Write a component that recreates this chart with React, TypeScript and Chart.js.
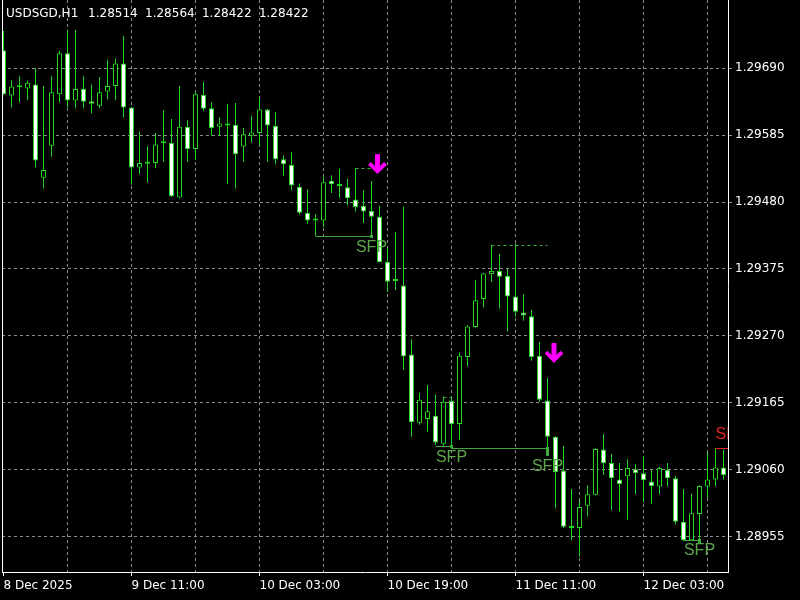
import { useEffect, useRef } from 'react';
import { Chart, registerables } from 'chart.js';

Chart.register(...registerables);

// ---- OHLC (hourly bars, index 0 = 8 Dec 19:00) ----
const opens = [
  1.29718, 1.29647, 1.29661, 1.29658, 1.29664, 1.29518, 1.29568, 1.29649, 1.29713, 1.29639,
  1.29657, 1.29638, 1.29631, 1.29653, 1.29662, 1.29697, 1.29628, 1.29534, 1.29541, 1.29541,
  1.29574, 1.29573, 1.29487, 1.29598, 1.29563, 1.29648, 1.29627, 1.29598, 1.29601, 1.29601,
  1.29567, 1.29584, 1.29588, 1.29625, 1.29599, 1.29547, 1.29538, 1.29504, 1.29463, 1.29453,
  1.29451, 1.29513, 1.29506, 1.29503, 1.29484, 1.29474, 1.29466, 1.29457, 1.29386, 1.29357,
  1.29349, 1.29241, 1.29134, 1.29140, 1.29145, 1.29101, 1.29168, 1.29132, 1.29237, 1.29284,
  1.29328, 1.29367, 1.29372, 1.29364, 1.29332, 1.29307, 1.29301, 1.29239, 1.29169, 1.29112,
  1.29059, 1.28970, 1.28969, 1.29004, 1.29021, 1.29092, 1.29071, 1.29045, 1.29050, 1.29061,
  1.29055, 1.29042, 1.29034, 1.29060, 1.29047, 1.28979, 1.28950, 1.28991, 1.29034, 1.29045,
  1.29064,
];
const highs = [
  1.29748, 1.29671, 1.29677, 1.29670, 1.29690, 1.29662, 1.29677, 1.29717, 1.29750, 1.29750,
  1.29677, 1.29664, 1.29676, 1.29703, 1.29705, 1.29740, 1.29629, 1.29591, 1.29567, 1.29588,
  1.29624, 1.29610, 1.29662, 1.29608, 1.29652, 1.29668, 1.29636, 1.29613, 1.29634, 1.29635,
  1.29596, 1.29615, 1.29644, 1.29626, 1.29621, 1.29553, 1.29558, 1.29509, 1.29500, 1.29461,
  1.29520, 1.29522, 1.29532, 1.29516, 1.29533, 1.29498, 1.29513, 1.29474, 1.29408, 1.29433,
  1.29473, 1.29265, 1.29181, 1.29193, 1.29178, 1.29175, 1.29174, 1.29244, 1.29287, 1.29358,
  1.29369, 1.29413, 1.29399, 1.29375, 1.29415, 1.29335, 1.29311, 1.29261, 1.29204, 1.29113,
  1.29098, 1.29030, 1.29013, 1.29036, 1.29094, 1.29116, 1.29085, 1.29071, 1.29077, 1.29069,
  1.29082, 1.29060, 1.29065, 1.29071, 1.29051, 1.29030, 1.29023, 1.29036, 1.29088, 1.29094,
  1.29092,
];
const lows = [
  1.29648, 1.29628, 1.29636, 1.29640, 1.29534, 1.29501, 1.29551, 1.29636, 1.29628, 1.29627,
  1.29627, 1.29619, 1.29627, 1.29641, 1.29640, 1.29613, 1.29507, 1.29524, 1.29510, 1.29533,
  1.29543, 1.29488, 1.29486, 1.29543, 1.29546, 1.29623, 1.29584, 1.29584, 1.29508, 1.29501,
  1.29543, 1.29573, 1.29569, 1.29543, 1.29539, 1.29521, 1.29498, 1.29461, 1.29446, 1.29427,
  1.29441, 1.29494, 1.29487, 1.29475, 1.29465, 1.29447, 1.29426, 1.29385, 1.29339, 1.29342,
  1.29217, 1.29112, 1.29131, 1.29120, 1.29099, 1.29098, 1.29094, 1.29107, 1.29222, 1.29283,
  1.29315, 1.29355, 1.29313, 1.29277, 1.29300, 1.29294, 1.29231, 1.29167, 1.29082, 1.29000,
  1.28969, 1.28950, 1.28924, 1.28987, 1.29020, 1.29052, 1.28997, 1.28995, 1.28982, 1.29022,
  1.29009, 1.29007, 1.29022, 1.29034, 1.28974, 1.28949, 1.28949, 1.28944, 1.29016, 1.29034,
  1.29045,
];
const closes = [
  1.29649, 1.29661, 1.29660, 1.29667, 1.29545, 1.29530, 1.29652, 1.29713, 1.29639, 1.29657,
  1.29637, 1.29634, 1.29652, 1.29662, 1.29697, 1.29628, 1.29534, 1.29541, 1.29540, 1.29570,
  1.29572, 1.29489, 1.29598, 1.29563, 1.29649, 1.29626, 1.29596, 1.29603, 1.29600, 1.29555,
  1.29586, 1.29589, 1.29625, 1.29600, 1.29547, 1.29539, 1.29506, 1.29463, 1.29451, 1.29451,
  1.29511, 1.29508, 1.29505, 1.29486, 1.29472, 1.29465, 1.29457, 1.29386, 1.29355, 1.29356,
  1.29238, 1.29135, 1.29170, 1.29152, 1.29103, 1.29167, 1.29132, 1.29239, 1.29285, 1.29326,
  1.29368, 1.29372, 1.29363, 1.29332, 1.29308, 1.29302, 1.29237, 1.29170, 1.29112, 1.29057,
  1.28971, 1.28969, 1.29002, 1.29022, 1.29093, 1.29071, 1.29047, 1.29038, 1.29063, 1.29055,
  1.29044, 1.29035, 1.29063, 1.29047, 1.28979, 1.28950, 1.28992, 1.29035, 1.29045, 1.29064,
  1.29052,
];

// ---- axes ----
const xGridIdx = [0, 8, 16, 24, 32, 40, 48, 56, 64, 72, 80, 88];
const xLabelIdx = [0, 16, 32, 48, 64, 80];
const xLabelText = ['8 Dec 2025', '9 Dec 11:00', '10 Dec 03:00', '10 Dec 19:00', '11 Dec 11:00', '12 Dec 03:00'];
const yTicks = [1.28955, 1.2906, 1.29165, 1.2927, 1.29375, 1.2948, 1.29585, 1.2969];
const Y_MIN = 1.289001;
const Y_MAX = 1.297966;
const X_MIN = -0.1875;
const X_MAX = 90.5625;

// ---- SFP annotations: [fromBar, toBar, price] ----
const sfpSolid: [number, number, number][] = [
  [39, 46, 1.29427],
  [54, 56, 1.29098],
  [56, 68, 1.29094],
  [85, 87, 1.2895],
];
const sfpDashed: [number, number, number][] = [
  [44, 46, 1.29533],
  [55, 56, 1.29175],
  [61, 68, 1.29413],
];
const sfpLabels: [number, number][] = [
  [46, 1.29409],
  [56, 1.2908],
  [68, 1.29066],
  [87, 1.28933],
];
const pendingLine: [number, number, number] = [89, 91, 1.29094];
const pendingLabel: [number, number] = [90.94, 1.29115];
const arrowBar = [46.75, 68.81];
const arrowTop = [1.29555, 1.29259];
const arrowTip = [1.29525, 1.29229];

const TITLE_SYMBOL = 'USDSGD,H1';
const TITLE_PRICES = '1.28514 1.28564 1.28422 1.28422';

const GREEN = '#22d822';
const BEAR_FILL = '#ffffff';
const SFP_LINE = '#3caa3c';
const SFP_TEXT = '#5ea44a';
const RED = '#e02424';
const MAGENTA = '#ff00ff';
const GRID = '#8c8c8c';
const AXIS = '#ffffff';
const TEXT = '#ffffff';
const FONT = "'DejaVu Sans', sans-serif";

const overlayPlugin = {
  id: 'sfpOverlay',
  afterDatasetsDraw(chart: any) {
    const { ctx, chartArea: a, scales } = chart;
    const xs = scales.x;
    const ys = scales.y;
    ctx.save();
    ctx.beginPath();
    ctx.rect(a.left, a.top, a.right - a.left, a.bottom - a.top);
    ctx.clip();

    ctx.lineWidth = 1;
    for (const [f, t, p] of sfpSolid) {
      const y = Math.round(ys.getPixelForValue(p)) + 0.5;
      ctx.strokeStyle = SFP_LINE;
      ctx.setLineDash([]);
      ctx.beginPath();
      ctx.moveTo(xs.getPixelForValue(f), y);
      ctx.lineTo(xs.getPixelForValue(t), y);
      ctx.stroke();
      const yl = ys.getPixelForValue(lows[t]);
      ctx.fillStyle = SFP_LINE;
      ctx.fillRect(xs.getPixelForValue(t) - 1.5, y - 1.5, 3, Math.max(3, yl - y + 1.5));
    }
    for (const [f, t, p] of sfpDashed) {
      const y = Math.round(ys.getPixelForValue(p)) + 0.5;
      ctx.strokeStyle = SFP_LINE;
      ctx.setLineDash([3, 3]);
      ctx.beginPath();
      ctx.moveTo(xs.getPixelForValue(f), y);
      ctx.lineTo(xs.getPixelForValue(t), y);
      ctx.stroke();
    }
    ctx.setLineDash([]);
    ctx.font = "16px 'Liberation Sans', Arial, sans-serif";
    ctx.textAlign = 'center';
    ctx.textBaseline = 'middle';
    ctx.fillStyle = SFP_TEXT;
    for (const [b, p] of sfpLabels) {
      ctx.fillText('SFP', xs.getPixelForValue(b), ys.getPixelForValue(p));
    }
    {
      const y = Math.round(ys.getPixelForValue(pendingLine[2])) + 0.5;
      ctx.strokeStyle = RED;
      ctx.beginPath();
      ctx.moveTo(xs.getPixelForValue(pendingLine[0]), y);
      ctx.lineTo(xs.getPixelForValue(pendingLine[1]), y);
      ctx.stroke();
      ctx.fillStyle = RED;
      ctx.fillText('SFP', xs.getPixelForValue(pendingLabel[0]), ys.getPixelForValue(pendingLabel[1]));
    }
    ctx.fillStyle = MAGENTA;
    ctx.strokeStyle = MAGENTA;
    for (let k = 0; k < arrowBar.length; k++) {
      const cx = xs.getPixelForValue(arrowBar[k]);
      const top = ys.getPixelForValue(arrowTop[k]);
      const tip = ys.getPixelForValue(arrowTip[k]);
      ctx.fillRect(cx - 2.5, top, 5, tip - top - 3);
      ctx.lineWidth = 4;
      ctx.lineJoin = 'miter';
      ctx.beginPath();
      ctx.moveTo(cx - 8, tip - 10);
      ctx.lineTo(cx, tip - 2);
      ctx.lineTo(cx + 8, tip - 10);
      ctx.stroke();
    }
    ctx.restore();

    ctx.save();
    ctx.strokeStyle = AXIS;
    ctx.lineWidth = 1;
    ctx.beginPath();
    ctx.moveTo(a.left + 0.5, a.top);
    ctx.lineTo(a.left + 0.5, a.bottom);
    ctx.stroke();
    ctx.restore();
  },
};

export default function App() {
  const ref = useRef<HTMLCanvasElement | null>(null);

  useEffect(() => {
    if (!ref.current) return;
    const bodyData = opens.map((o, i) => ({ x: i, y: [Math.min(o, closes[i]), Math.max(o, closes[i])] }));
    const wickData = lows.map((l, i) => ({ x: i, y: [l, highs[i]] }));
    const bodyFill = opens.map((o, i) => (closes[i] >= o ? '#000000' : BEAR_FILL));

    const chart = new Chart(ref.current, {
      type: 'bar',
      data: {
        datasets: [
          {
            data: bodyData as any,
            order: 0,
            stack: 'candle',
            barThickness: 5,
            backgroundColor: bodyFill,
            hoverBackgroundColor: bodyFill,
            borderColor: GREEN,
            hoverBorderColor: GREEN,
            borderWidth: 1,
            borderSkipped: false,
            inflateAmount: 0,
            minBarLength: 2,
          } as any,
          {
            data: wickData as any,
            order: 1,
            stack: 'candle',
            barThickness: 1,
            backgroundColor: GREEN,
            hoverBackgroundColor: GREEN,
            borderColor: GREEN,
            borderWidth: 0,
            borderSkipped: false,
            inflateAmount: 0,
          } as any,
        ],
      },
      options: {
        responsive: false,
        animation: false,
        events: [],
        layout: { padding: { left: 2, right: 0, top: 0, bottom: 0 } },
        plugins: {
          legend: { display: false },
          tooltip: { enabled: false },
          title: { display: false },
          colors: { enabled: false },
        } as any,
        scales: {
          x: {
            type: 'linear',
            position: 'bottom',
            min: X_MIN,
            max: X_MAX,
            offset: false,
            afterBuildTicks: (s: any) => {
              s.ticks = xGridIdx.map((v) => ({ value: v }));
            },
            afterFit: (s: any) => {
              s.height = 28;
              s.paddingLeft = 0;
              s.paddingRight = 0;
            },
            grid: {
              offset: false,
              lineWidth: 1,
              drawTicks: true,
              tickLength: 4,
              color: (c: any) => (c.tick && c.tick.value === 0 ? 'rgba(0,0,0,0)' : GRID),
              tickColor: (c: any) => (c.tick && xLabelIdx.includes(c.tick.value) ? AXIS : 'rgba(0,0,0,0)'),
              tickBorderDash: [],
            },
            border: { display: true, color: AXIS, width: 1, dash: [3, 3] },
            ticks: {
              autoSkip: false,
              maxRotation: 0,
              minRotation: 0,
              align: 'start',
              padding: 3,
              color: TEXT,
              font: { family: FONT, size: 12 },
              callback: (v: any) => {
                const k = xLabelIdx.indexOf(Number(v));
                return k >= 0 ? xLabelText[k] : '';
              },
            },
          } as any,
          y: {
            type: 'linear',
            position: 'right',
            stacked: false,
            min: Y_MIN,
            max: Y_MAX,
            afterBuildTicks: (s: any) => {
              s.ticks = yTicks.map((v) => ({ value: v }));
            },
            afterFit: (s: any) => {
              s.width = 72;
              s.paddingTop = 0;
              s.paddingBottom = 0;
            },
            grid: {
              lineWidth: 1,
              color: GRID,
              drawTicks: true,
              tickLength: 4,
              tickColor: GRID,
              tickBorderDash: [],
            },
            border: { display: true, color: AXIS, width: 1, dash: [3, 3] },
            ticks: {
              autoSkip: false,
              padding: 3,
              color: TEXT,
              font: { family: FONT, size: 12 },
              callback: (v: any) => Number(v).toFixed(5),
            },
          } as any,
        },
      },
      plugins: [overlayPlugin],
    });
    return () => chart.destroy();
  }, []);

  return (
    <div
      style={{
        position: 'fixed',
        left: 0,
        top: 0,
        width: 800,
        height: 600,
        background: '#000',
        overflow: 'hidden',
      }}
    >
      <canvas ref={ref} width={800} height={600} style={{ display: 'block', width: 800, height: 600 }} />
      <div
        style={{
          position: 'absolute',
          left: 6,
          top: 6,
          color: '#fff',
          fontFamily: FONT,
          fontSize: 12,
          lineHeight: '14px',
          whiteSpace: 'pre',
        }}
      >
        {TITLE_SYMBOL + ' '}
        <span style={{ marginLeft: 6, wordSpacing: 3.5 }}>{TITLE_PRICES}</span>
      </div>
    </div>
  );
}
